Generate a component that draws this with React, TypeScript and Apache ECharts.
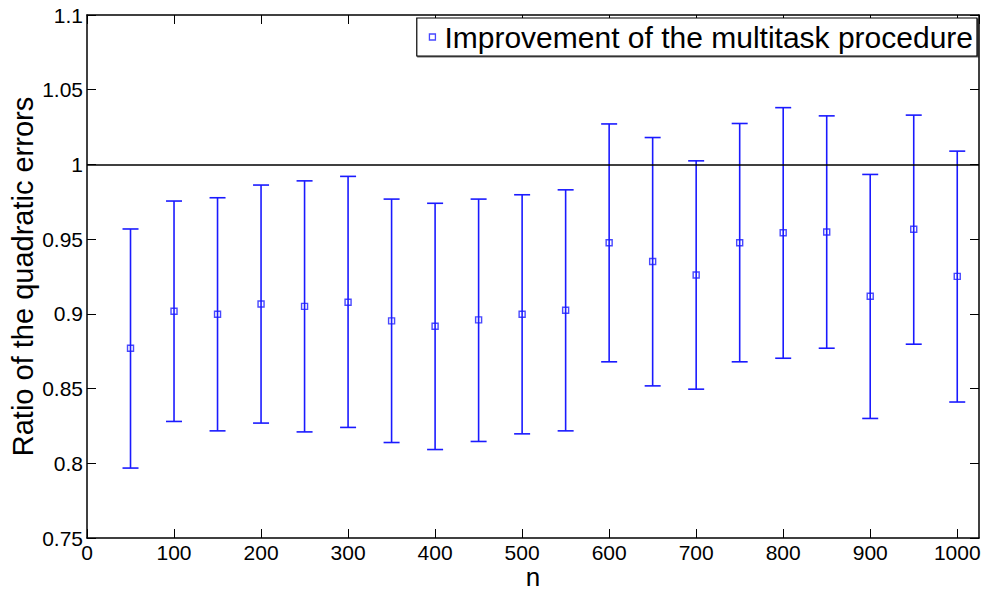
import React, { useEffect, useRef } from "react";
import * as echarts from "echarts";

const nValues = [50, 100, 150, 200, 250, 300, 350, 400, 450, 500, 550, 600, 650, 700, 750, 800, 850, 900, 950, 1000];
const meanRatio = [0.877, 0.9017, 0.8997, 0.9066, 0.905, 0.9078, 0.8953, 0.8917, 0.896, 0.8997, 0.9024, 0.9476, 0.935, 0.926, 0.9476, 0.9543, 0.9548, 0.9118, 0.9566, 0.9251];
const lowerBound = [0.7968, 0.828, 0.8217, 0.8269, 0.821, 0.824, 0.8139, 0.8092, 0.8146, 0.8197, 0.8217, 0.8679, 0.8518, 0.8496, 0.8679, 0.8703, 0.877, 0.830, 0.8797, 0.841];
const upperBound = [0.9568, 0.9755, 0.9777, 0.9862, 0.989, 0.992, 0.9768, 0.974, 0.9768, 0.9797, 0.983, 1.0271, 1.018, 1.0024, 1.0274, 1.038, 1.0325, 0.9933, 1.033, 1.0089];
const referenceLevel = 1;
const seriesName = "Improvement of the multitask procedure";
const xAxisTitle = "n";
const yAxisTitle = "Ratio of the quadratic errors";

const FONT = "'Liberation Sans', Arial, Helvetica, sans-serif";
const BLUE = "#1a1aff";

export default function App() {
  const ref = useRef<HTMLDivElement>(null);
  useEffect(() => {
    if (!ref.current) return;
    const chart = echarts.init(ref.current, null, { renderer: "svg" });
    const errData = nValues.map((n, i) => [n, lowerBound[i], upperBound[i]]);
    const ptData = nValues.map((n, i) => [n, meanRatio[i]]);
    const axisLineStyle = { color: "#000", width: 1.5 };
    const xBase = {
      type: "value",
      min: 0,
      max: 1025,
      interval: 100,
      splitLine: { show: false },
      axisLine: { show: true, onZero: false, lineStyle: axisLineStyle },
      axisTick: { show: true, inside: true, length: 9, lineStyle: { color: "#000", width: 1 } },
    };
    const yBase = {
      type: "value",
      min: 0.75,
      max: 1.1,
      interval: 0.05,
      splitLine: { show: false },
      axisLine: { show: true, onZero: false, lineStyle: axisLineStyle },
      axisTick: { show: true, inside: true, length: 9, lineStyle: { color: "#000", width: 1 } },
    };
    chart.setOption({
      animation: false,
      backgroundColor: "#fff",
      textStyle: { fontFamily: FONT },
      grid: { left: 87, right: 6, top: 15, bottom: 52, containLabel: false, outerBoundsMode: "none" },
      legend: {
        right: 8,
        top: 18,
        orient: "horizontal",
        backgroundColor: "#fff",
        borderColor: "#000",
        borderWidth: 1.2,
        borderRadius: 0,
        padding: [2, 4, 2, 12],
        itemWidth: 6,
        itemHeight: 6,
        itemGap: 10,
        shadowColor: "rgba(0,0,0,0.6)",
        shadowOffsetX: 1,
        shadowOffsetY: 1,
        shadowBlur: 0,
        textStyle: { fontSize: 30, color: "#000", fontFamily: FONT, lineHeight: 34, padding: [0, 0, 0, 4] },
        data: [
          {
            name: seriesName,
            icon: "rect",
            itemStyle: { color: "rgba(0,0,0,0)", borderColor: BLUE, borderWidth: 1.3 },
          },
        ],
      },
      xAxis: [
        {
          ...xBase,
          position: "bottom",
          name: xAxisTitle,
          nameLocation: "middle",
          nameGap: 27,
          nameMoveOverlap: false,
          nameTextStyle: { fontSize: 26, color: "#000", fontFamily: FONT, lineHeight: 24 },
          axisLabel: {
            color: "#000",
            fontSize: 21,
            margin: 4,
            fontFamily: FONT,
            showMaxLabel: false,
            formatter: (v: number) => String(v),
          },
        },
        {
          ...xBase,
          position: "top",
          axisLabel: { show: false },
        },
      ],
      yAxis: [
        {
          ...yBase,
          position: "left",
          name: yAxisTitle,
          nameLocation: "middle",
          nameGap: 64,
          nameMoveOverlap: false,
          nameTextStyle: { fontSize: 29, color: "#000", fontFamily: FONT, verticalAlign: "middle" },
          axisLabel: {
            color: "#000",
            fontSize: 21,
            margin: 4,
            fontFamily: FONT,
            formatter: (v: number) => String(Math.round(v * 100) / 100),
          },
        },
        {
          ...yBase,
          position: "right",
          axisLabel: { show: false },
        },
      ],
      series: [
        {
          type: "custom",
          name: "errorbars",
          xAxisIndex: 0,
          yAxisIndex: 0,
          silent: true,
          data: errData,
          encode: { x: 0, y: [1, 2] },
          renderItem: (params: any, api: any) => {
            const x = api.value(0);
            const lo = api.coord([x, api.value(1)]);
            const hi = api.coord([x, api.value(2)]);
            const hw = 8;
            const style = { stroke: BLUE, lineWidth: 1.6 };
            return {
              type: "group",
              children: [
                { type: "line", shape: { x1: hi[0], y1: hi[1], x2: lo[0], y2: lo[1] }, style },
                { type: "line", shape: { x1: hi[0] - hw, y1: hi[1], x2: hi[0] + hw, y2: hi[1] }, style },
                { type: "line", shape: { x1: lo[0] - hw, y1: lo[1], x2: lo[0] + hw, y2: lo[1] }, style },
              ],
            };
          },
          z: 2,
        },
        {
          type: "scatter",
          name: seriesName,
          xAxisIndex: 0,
          yAxisIndex: 0,
          data: ptData,
          symbol: "rect",
          symbolSize: 6,
          itemStyle: { color: "rgba(0,0,0,0)", borderColor: BLUE, borderWidth: 1.4 },
          z: 3,
          markLine: {
            silent: true,
            symbol: "none",
            label: { show: false },
            lineStyle: { color: "#000", width: 1.5, type: "solid" },
            data: [{ yAxis: referenceLevel }],
          },
        },
      ],
    });
    return () => chart.dispose();
  }, []);
  return <div ref={ref} style={{ width: 985, height: 590, position: "absolute", left: 0, top: 0 }} />;
}
